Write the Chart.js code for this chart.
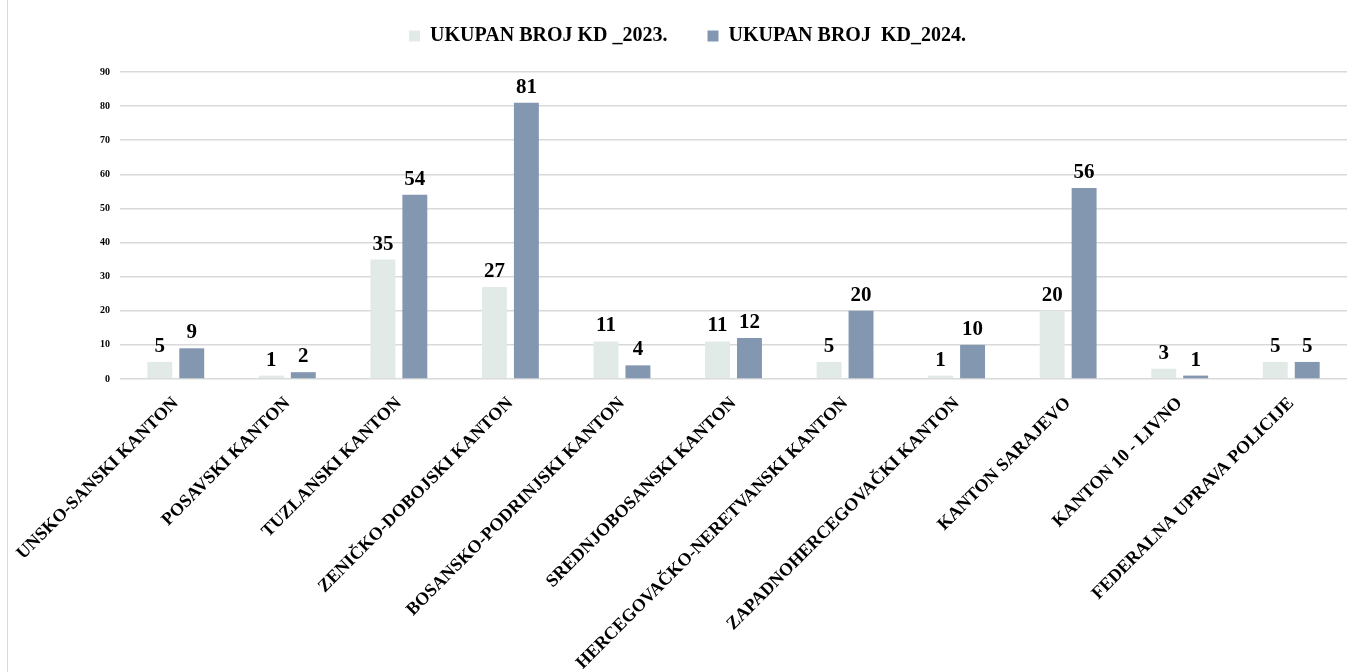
<!DOCTYPE html>
<html>
<head>
<meta charset="utf-8">
<script src="https://cdn.jsdelivr.net/npm/chart.js@4.4.1/dist/chart.umd.min.js"></script>
<style>
  html, body { margin: 0; padding: 0; background: #fff; }
  #wrap {
    position: absolute; left: 0; top: 0; width: 1357px; height: 672px;
  }
  #frame {
    position: absolute; left: 7px; top: 0; width: 1px; height: 672px; background: #d9d9d9;
  }
</style>
</head>
<body>
<div id="wrap"><canvas id="chart" width="1357" height="672"></canvas></div>
<div id="frame"></div>
<script>
// categories (kantoni)
const categories = [
    'UNSKO-SANSKI KANTON',
    'POSAVSKI KANTON',
    'TUZLANSKI KANTON',
    'ZENIČKO-DOBOJSKI KANTON',
    'BOSANSKO-PODRINJSKI KANTON',
    'SREDNJOBOSANSKI KANTON',
    'HERCEGOVAČKO-NERETVANSKI KANTON',
    'ZAPADNOHERCEGOVAČKI KANTON',
    'KANTON SARAJEVO',
    'KANTON 10 - LIVNO',
    'FEDERALNA UPRAVA POLICIJE'
];
const series_names = ['UKUPAN BROJ KD _2023.', 'UKUPAN BROJ  KD_2024.'];
const values_2023 = [5, 1, 35, 27, 11, 11, 5, 1, 20, 3, 5];
const values_2024 = [9, 2, 54, 81, 4, 12, 20, 10, 56, 1, 5];
const y_ticks = [0, 10, 20, 30, 40, 50, 60, 70, 80, 90];

const serif = '"Liberation Serif", "DejaVu Serif", serif';

// draws the value above every bar
const value_labels = {
    id: 'value_labels',
    afterDatasetsDraw(chart) {
        let ctx = chart.ctx;
        ctx.save();
        ctx.font = 'bold 21px ' + serif;
        ctx.fillStyle = '#000';
        ctx.textAlign = 'center';
        ctx.textBaseline = 'bottom';
        chart.data.datasets.forEach((ds, i) => {
            chart.getDatasetMeta(i).data.forEach((bar, j) => {
                ctx.fillText(String(ds.data[j]), bar.x, bar.y - 5);
            });
        });
        ctx.restore();
    }
};

// extra space between the legend and the plot area
const legend_gap = {
    id: 'legend_gap',
    beforeInit(chart) {
        let legend = chart.legend,
            fit = legend.fit;
        legend.fit = function () {
            fit.call(this);
            this.height += 16;
        };
    }
};

new Chart(document.getElementById('chart'), {
    type: 'bar',
    data: {
        labels: categories,
        datasets: [{
            label: series_names[0],
            data: values_2023,
            backgroundColor: '#e2eae7'
        }, {
            label: series_names[1],
            data: values_2024,
            backgroundColor: '#8497b0'
        }]
    },
    options: {
        responsive: false,
        animation: false,
        layout: {padding: {top: -14, right: 10, left: 28, bottom: 0}},
        datasets: {
            bar: {categoryPercentage: 0.573, barPercentage: 0.78}
        },
        plugins: {
            tooltip: {enabled: false},
            legend: {
                position: 'top',
                labels: {
                    boxWidth: 11,
                    boxHeight: 11,
                    padding: 40,
                    color: '#000',
                    font: {family: serif, size: 20, weight: 'bold'}
                }
            }
        },
        scales: {
            x: {
                grid: {display: false},
                border: {display: false},
                ticks: {
                    autoSkip: false,
                    maxRotation: 45,
                    minRotation: 45,
                    padding: 6,
                    color: '#000',
                    font: {family: serif, size: 18, weight: 'bold'}
                },
                afterFit(scale) { scale.height = 293; }
            },
            y: {
                min: 0,
                max: 90,
                afterBuildTicks(scale) {
                    scale.ticks = y_ticks.map(v => ({value: v}));
                },
                grid: {color: '#d9d9d9', lineWidth: 1.5, drawTicks: false},
                border: {display: false},
                ticks: {
                    padding: 10,
                    color: '#000',
                    font: {family: serif, size: 10, weight: 'bold'}
                },
                afterFit(scale) { scale.width = 92; }
            }
        }
    },
    plugins: [value_labels, legend_gap]
});
</script>
</body>
</html>
